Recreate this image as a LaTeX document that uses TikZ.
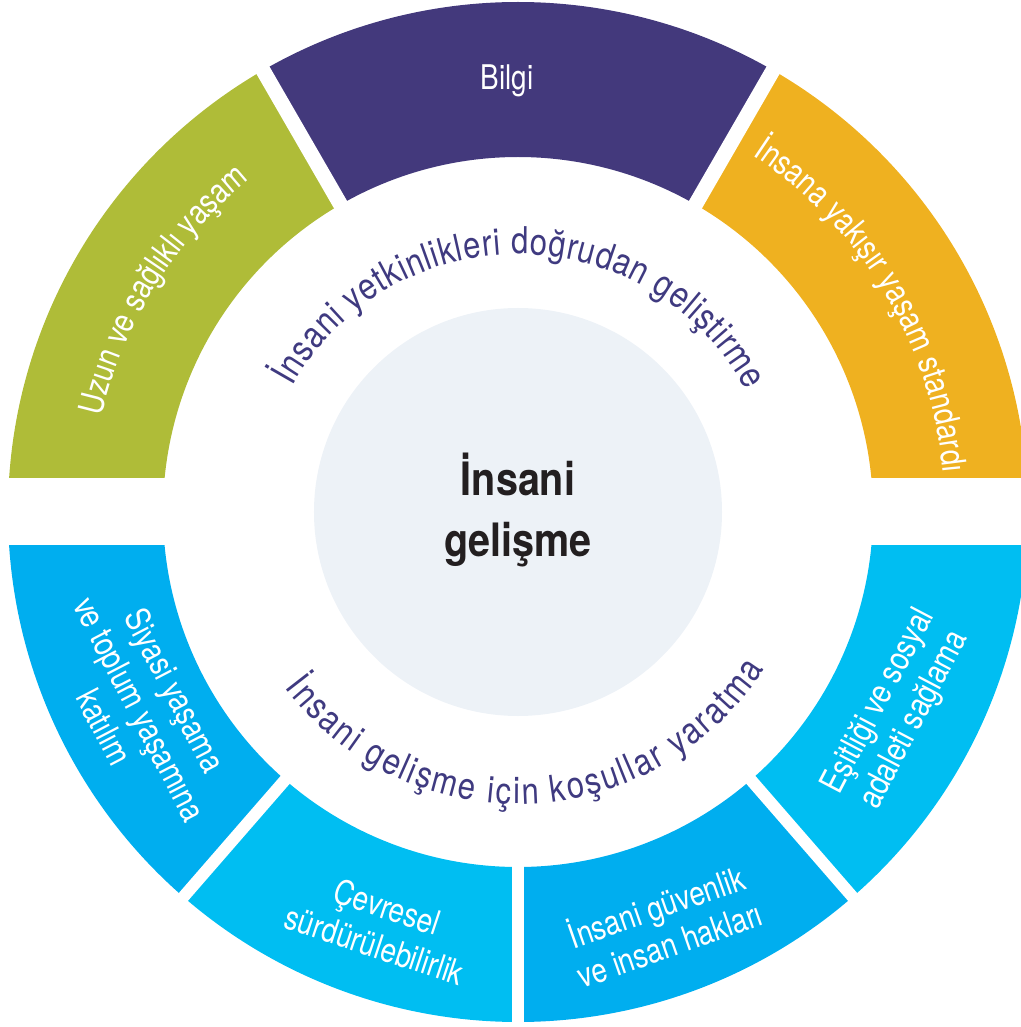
\documentclass[tikz,border=0pt]{standalone}
\usepackage{fontspec}
\setmainfont{TeX Gyre Heros}
\newfontfamily\segfont[FakeStretch=0.82]{TeX Gyre Heros}
\newfontfamily\arcfont[FakeStretch=0.84]{TeX Gyre Heros}
\newfontfamily\hubfont[FakeStretch=0.86]{TeX Gyre Heros}
\usetikzlibrary{decorations.text}
\definecolor{segGreen}{HTML}{AFBC38}
\definecolor{segPurple}{HTML}{43397C}
\definecolor{segOrange}{HTML}{EFB120}
\definecolor{segBlueA}{HTML}{00AEEF}
\definecolor{segBlueB}{HTML}{00BEF2}
\definecolor{hubGrey}{HTML}{EDF2F7}
\definecolor{arcPurple}{HTML}{3F3A80}
\definecolor{hubText}{HTML}{231F20}
\def\ringseg[#1](#2:#3){\fill[#1] (#2:510pt) arc (#2:#3:510pt) -- (#3:355pt) arc (#3:#2:355pt) -- cycle;}

\begin{document}
\begin{tikzpicture}[
	segtext/.style={text=white, align=center, inner sep=0pt, font=\segfont\fontsize{34}{40}\selectfont},
	gap/.style={white, line width=#1},
	hubtext/.style={text=hubText, anchor=base, inner sep=0pt, font=\hubfont\bfseries\fontsize{46}{46}\selectfont}
	]
			%%%%% START %%%%%
			\useasboundingbox (-518pt,-515pt) rectangle (502pt,512pt);
			
			% upper half
			\ringseg[segGreen](180:120)
			\ringseg[segPurple](120:60)
			\ringseg[segOrange](60:0)
			
			% lower half
			\ringseg[segBlueA](180:229)
			\ringseg[segBlueB](229:270)
			\ringseg[segBlueA](270:311)
			\ringseg[segBlueB](311:360)
			
			% white cuts
			\draw[gap=15pt] (0,0) -- (120:540pt);
			\draw[gap=15pt] (0,0) -- (60:540pt);
			\draw[gap=12pt] (0,0) -- (229:540pt);
			\draw[gap=12pt] (0,0) -- (270:540pt);
			\draw[gap=12pt] (0,0) -- (311:540pt);
			\fill[white] (-540pt,-33pt) rectangle (540pt,34pt);
			
			\node[circle, fill=hubGrey, minimum size=408pt, inner sep=0pt] (hub) at (0,0) {};
			\node[hubtext] (hubtop) at (0,16pt) {İnsani};
			\node[hubtext] (hubbottom) at (0,-45pt) {gelişme};
			
			% segment labels
			\node[segtext, anchor=base] (bilgi) at (-11pt,422pt) {Bilgi};
			\path[decorate, decoration={text along path, text align=center, text color=white,
				text={|\segfont\fontsize{34}{34}\selectfont|Uzun ve sağlıklı yaşam}}] (176:427pt) arc (176:120:427pt);
			\path[decorate, decoration={text along path, text align=center, text color=white,
				text={|\segfont\fontsize{34}{34}\selectfont|İnsana yakışır yaşam standardı}}] (60:427pt) arc (60:2:427pt);
			\node[segtext, rotate=-62.5] (siyasi) at (207.5:426pt) {Siyasi yaşama\\ve toplum yaşamına\\katılım};
			\node[segtext, rotate=-18.3] (cevre) at (251.7:436pt) {Çevresel\\sürdürülebilirlik};
			\node[segtext, rotate=19.3] (guvenlik) at (289.3:436pt) {İnsani güvenlik\\ve insan hakları};
			\node[segtext, rotate=62.3] (esitlik) at (332.3:428pt) {Eşitliği ve sosyal\\adaleti sağlama};
			
			% arc titles
			\path[decorate, decoration={text along path, text align={fit to path}, text color=arcPurple,
				text={|\arcfont\fontsize{37}{37}\selectfont|İnsani yetkinlikleri doğrudan geliştirme}}] (151:258pt) arc (151:28:258pt);
			\path[decorate, decoration={text along path, text align={fit to path}, text color=arcPurple,
				text={|\arcfont\fontsize{37}{37}\selectfont|İnsani gelişme için koşullar yaratma}}] (217:292pt) arc (217:327.5:292pt);
			%%%%% END %%%%%
\end{tikzpicture}
\end{document}
